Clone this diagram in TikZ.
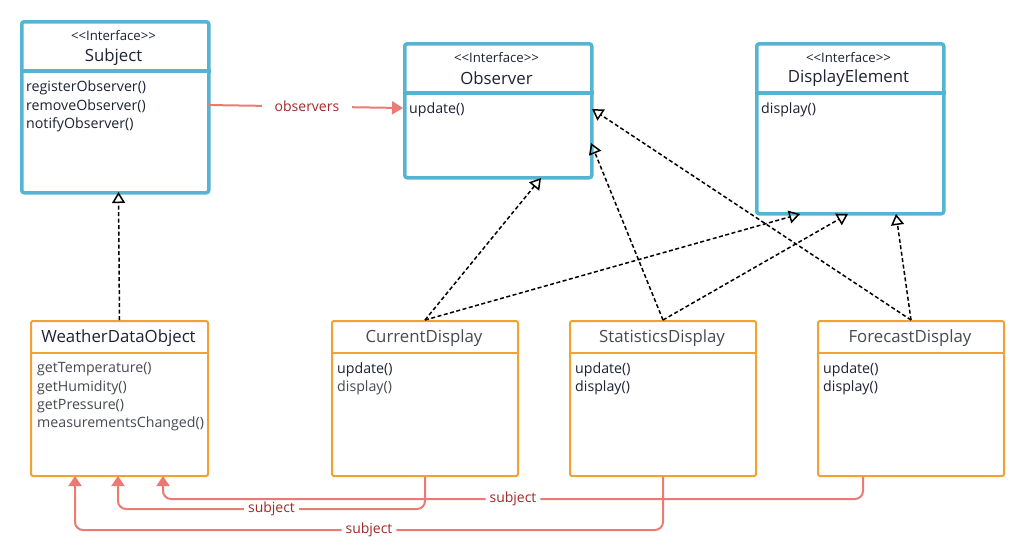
\documentclass[tikz,border=0pt]{standalone}
\usepackage{fontspec}
\setmainfont{Open Sans}
\usetikzlibrary{arrows.meta,calc}
\definecolor{ifblue}{HTML}{56B4D3}
\definecolor{clsorange}{HTML}{F0A232}
\definecolor{assoc}{HTML}{EC7A74}
\definecolor{assoctext}{HTML}{A3282A}
\definecolor{ink}{HTML}{1E2235}
\definecolor{grayink}{HTML}{474A52}
\newcommand{\stereotxt}{<\kern0pt<Interface>\kern0pt>}
\begin{document}
\begin{tikzpicture}[x=1pt,y=-1pt,
  ifbox/.style={draw=ifblue, line width=3.5pt, rounded corners=2.5pt, fill=white, inner sep=0pt, anchor=north west},
  ifdiv/.style={draw=ifblue, line width=3.5pt},
  clsbox/.style={draw=clsorange, line width=2pt, rounded corners=2pt, fill=white, inner sep=0pt, anchor=north west},
  clsdiv/.style={draw=clsorange, line width=2pt},
  stereo/.style={font=\fontsize{13.2}{15}\selectfont, text=ink, inner sep=0pt},
  ctitle/.style={font=\fontsize{16.8}{19}\selectfont, text=ink, inner sep=0pt},
  meth/.style={font=\fontsize{14.2}{18.2}\selectfont, text=ink, align=left, anchor=north west, inner sep=0pt},
  realize/.style={draw=black, line width=1.5pt, dash pattern=on 4pt off 2.5pt,
     -{Triangle[open, length=11pt, width=13pt, line width=1.5pt]}},
  assocline/.style={draw=assoc, line width=2pt, rounded corners=8pt,
     -{Triangle[length=10pt, width=13pt]}},
  lbl/.style={fill=white, text=assoctext, font=\fontsize{14}{16}\selectfont, inner xsep=4pt, inner ysep=1pt}
]
\useasboundingbox (0,0) rectangle (1024,558);
\fill[white] (0,0) rectangle (1024,558);

% ---------- interfaces ----------
\node[ifbox, minimum width=187pt, minimum height=171pt] (subj) at (20,20) {};
\draw[ifdiv] ($(subj.north west)+(0,51)$) -- ($(subj.north east)+(0,51)$);
\node[stereo] (subjS) at (113.5,35.5) {\stereotxt};
\node[ctitle] (subjT) at (113.5,57) {Subject};
\node[meth] (subjM) at (26,81) {registerObserver()\\removeObserver()\\notifyObserver()};

\node[ifbox, minimum width=187pt, minimum height=134pt] (obs) at (403,42) {};
\draw[ifdiv] ($(obs.north west)+(0,51)$) -- ($(obs.north east)+(0,51)$);
\node[stereo] (obsS) at (496.5,57.5) {\stereotxt};
\node[ctitle] (obsT) at (496.5,78) {Observer};
\node[meth] (obsM) at (409,103) {update()};

\node[ifbox, minimum width=187pt, minimum height=170pt] (disp) at (755,42) {};
\draw[ifdiv] ($(disp.north west)+(0,51)$) -- ($(disp.north east)+(0,51)$);
\node[stereo] (dispS) at (848.5,57.5) {\stereotxt};
\node[ctitle] (dispT) at (848.5,78) {DisplayElement};
\node[meth] (dispM) at (761,103) {display()};

% ---------- classes ----------
\node[clsbox, minimum width=177pt, minimum height=155pt] (wdo) at (30,320) {};
\draw[clsdiv] ($(wdo.north west)+(0,33)$) -- ($(wdo.north east)+(0,33)$);
\node[ctitle] (wdoT) at (118.5,338) {WeatherDataObject};
\node[meth, text=grayink] (wdoM) at (37,362.5) {getTemperature()\\getHumidity()\\getPressure()\\measurementsChanged()};

\node[clsbox, minimum width=186pt, minimum height=155pt] (cur) at (331,320) {};
\draw[clsdiv] ($(cur.north west)+(0,33)$) -- ($(cur.north east)+(0,33)$);
\node[ctitle, text=grayink] (curT) at (424,338) {CurrentDisplay};
\node[meth] (curM) at (337,362.5) {update()\\\textcolor{grayink}{display()}};

\node[clsbox, minimum width=186pt, minimum height=155pt] (stat) at (569,320) {};
\draw[clsdiv] ($(stat.north west)+(0,33)$) -- ($(stat.north east)+(0,33)$);
\node[ctitle, text=grayink] (statT) at (662,338) {StatisticsDisplay};
\node[meth] (statM) at (575,362.5) {update()\\display()};

\node[clsbox, minimum width=186pt, minimum height=155pt] (fore) at (817,320) {};
\draw[clsdiv] ($(fore.north west)+(0,33)$) -- ($(fore.north east)+(0,33)$);
\node[ctitle, text=grayink] (foreT) at (910,338) {ForecastDisplay};
\node[meth] (foreM) at (823,362.5) {update()\\display()};

% ---------- connector end points ----------
\coordinate (subjB) at (118.5,192);
\coordinate (obsB)  at (541,178);
\coordinate (obsR1) at (591,143);
\coordinate (obsR2) at (592,109);
\coordinate (dispB1) at (800,214);
\coordinate (dispB2) at (848,214);
\coordinate (dispB3) at (896,214);
\coordinate (subjR) at (207,105);
\coordinate (obsL) at (403,108);
\coordinate (wdoB1) at (75,476);
\coordinate (wdoB2) at (118,476);
\coordinate (wdoB3) at (163,476);
\coordinate (foreB) at (863,475);

% ---------- realizations ----------
\draw[realize] (wdo.north) -- (subjB);
\draw[realize] (cur.north) -- (obsB);
\draw[realize] (cur.north) -- (dispB1);
\draw[realize] (stat.north) -- (obsR1);
\draw[realize] (stat.north) -- (dispB2);
\draw[realize] (fore.north) -- (obsR2);
\draw[realize] (fore.north) -- (dispB3);

% ---------- associations ----------
\draw[draw=assoc, line width=2pt, -{Triangle[length=11pt, width=13pt]}] (subjR) -- node[lbl, inner xsep=13pt, pos=0.51] (obsLbl) {observers} (obsL);
\draw[assocline] (fore.south -| foreB) -- ++(0,22) -| node[lbl, pos=0.25] (lblF) {subject} (wdoB3);
\draw[assocline] (cur.south) -- ++(0,32) -| node[lbl, pos=0.25] (lblC) {subject} (wdoB2);
\draw[assocline] (stat.south) -- ++(0,53) -| node[lbl, pos=0.25] (lblS) {subject} (wdoB1);
\end{tikzpicture}
\end{document}
